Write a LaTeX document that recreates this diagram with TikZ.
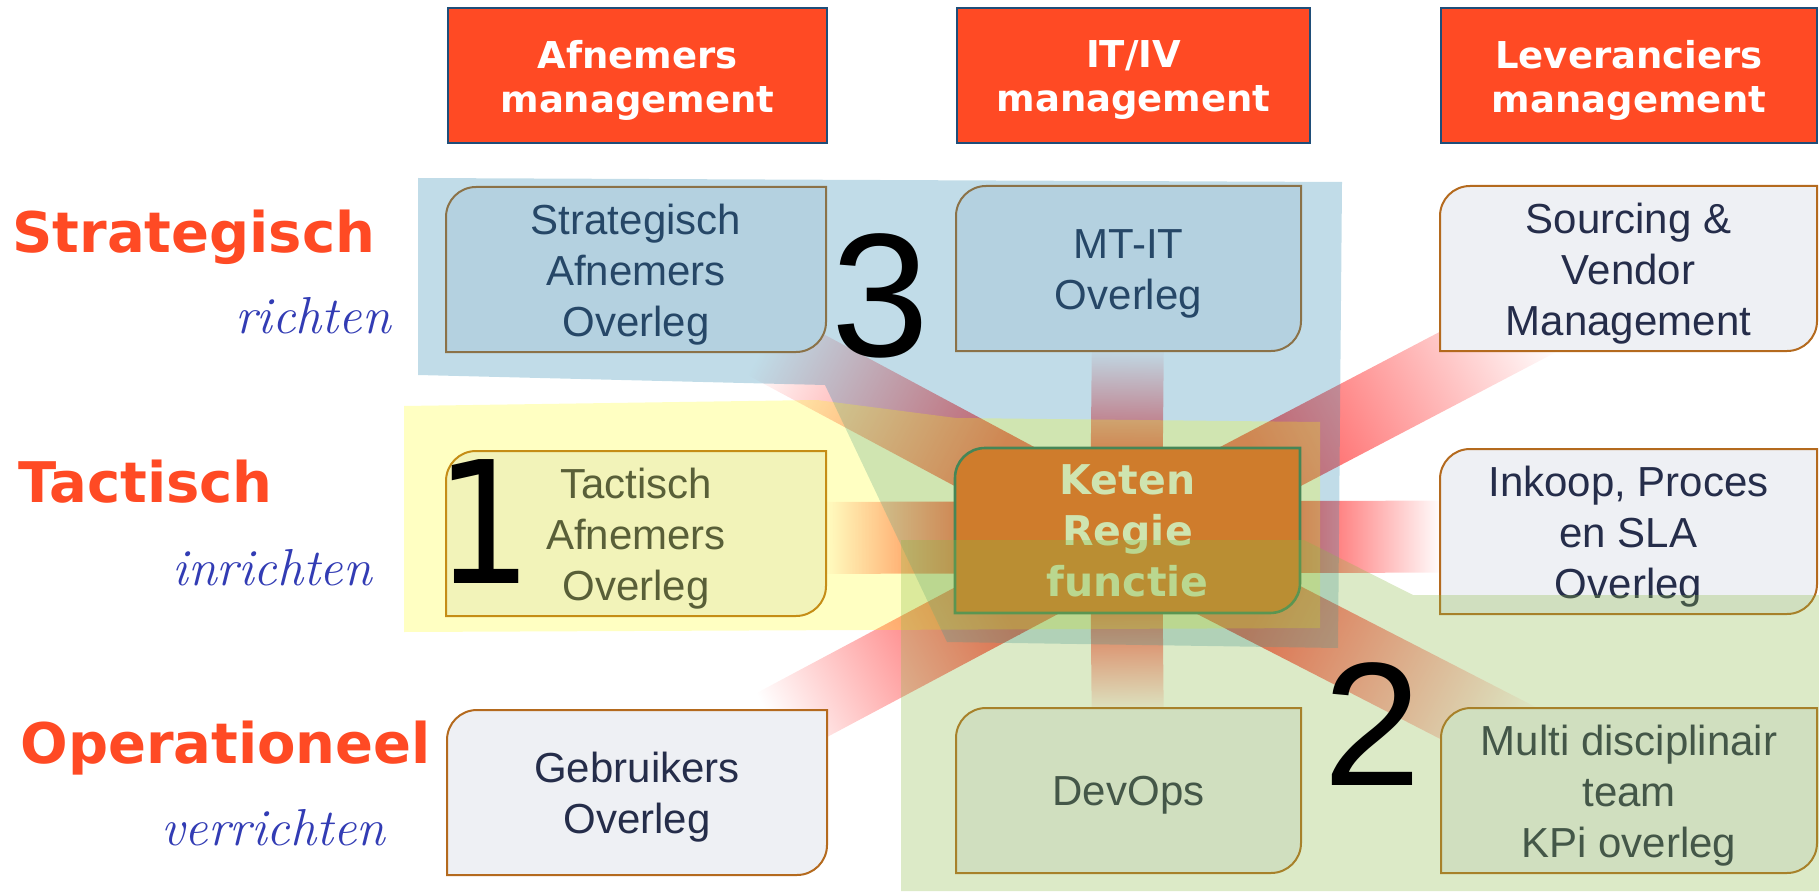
\documentclass[tikz,border=0pt]{standalone}
\usepackage{fontspec}
\usepackage{graphicx}
\usetikzlibrary{calc}
\newfontfamily\djfont{DejaVu Sans}
\newfontfamily\lsfont{Liberation Sans}
\definecolor{hdr}{RGB}{255,74,36}
\definecolor{hdrline}{RGB}{31,78,121}
\definecolor{boxfill}{RGB}{238,240,244}
\definecolor{boxline}{RGB}{180,106,30}
\definecolor{boxtxt}{RGB}{37,45,74}
\definecolor{ketenfill}{RGB}{255,62,10}
\definecolor{ketenline}{RGB}{0,80,90}
\definecolor{scriptblue}{RGB}{50,60,180}
\definecolor{ovblue}{RGB}{41,136,177}
\definecolor{ovyellow}{RGB}{255,255,0}
\definecolor{ovgreen}{RGB}{140,185,70}
\definecolor{beamred}{RGB}{255,80,80}
\pgfdeclarelayer{beams}
\pgfsetlayers{beams,main}
\newcommand\ovbox[8][]{%
  \draw[boxshape,#1] (#3,#6) -- (#3,#4+30) .. controls (#3,#4+13.4) and (#3+13.4,#4) .. (#3+30,#4) -- (#5,#4) -- (#5,#6-30) .. controls (#5,#6-13.4) and (#5-13.4,#6) .. (#5-30,#6) -- cycle;
  \node[boxtext,#7] (#2) at ({(#3+#5)/2},{(#4+#6)/2+5}) {#8};
}
\newcommand\beam[3]{%
  \pgfmathanglebetweenpoints{\pgfpointanchor{hub}{center}}{\pgfpointanchor{#1}{center}}%
  \let\bang\pgfmathresult
  \begin{scope}[transform canvas={shift={(hub)},rotate=\bang}]
    \fill[beamred] (0,-36) rectangle (#2,36);
    \shade[left color=beamred,right color=white] (#2-0.5,-36) rectangle (#3,36);
  \end{scope}
}
\begin{document}
\begin{tikzpicture}[x=0.5pt,y=-0.5pt,
  hdrbox/.style={draw=hdrline,fill=hdr,line width=1pt},
  hdrtext/.style={inner sep=0,align=center,text=white,font={\djfont\bfseries\fontsize{18.5}{22}\selectfont}},
  rowlab/.style={anchor=base west,inner sep=0,text=hdr,font={\djfont\bfseries\fontsize{28}{30}\selectfont}},
  scr/.style={anchor=base west,inner sep=0,text=scriptblue,font={\itshape\fontsize{26}{28}\selectfont}},
  boxshape/.style={draw=boxline,fill=boxfill,line width=1pt},
  boxtext/.style={inner sep=0,align=center,text=boxtxt,font={\lsfont\fontsize{21}{25.5}\selectfont}},
  ketentext/.style={text=white,yshift=2.5pt,font={\djfont\bfseries\fontsize{20.5}{25.5}\selectfont}},
  bignum/.style={anchor=base west,inner sep=0,text=black}]
\useasboundingbox (0,0) rectangle (1819,893);
% column headers
\draw[hdrbox] (448,8) rectangle (827,143);
\node[hdrtext] (hA) at (637.5,80.5) {Afnemers\\management};
\draw[hdrbox] (957,8) rectangle (1310,143);
\node[hdrtext] (hI) at (1133.5,80.5) {IT/IV\\management};
\draw[hdrbox] (1441,8) rectangle (1817,143);
\node[hdrtext] (hL) at (1629,80.5) {Leveranciers\\management};
% row labels
\node[rowlab] (rS) at (12,253) {Strategisch};
\node[rowlab] (rT) at (18,502) {Tactisch};
\node[rowlab] (rO) at (20,763) {Operationeel};
\node[scr] (sR) at (235,333) {richten};
\node[scr] (sI) at (172,585) {inrichten};
\node[scr] (sV) at (161,845) {verrichten};
% boxes
\ovbox{sao}{446}{187}{826}{352}{}{Strategisch\\Afnemers\\Overleg}
\ovbox{mtit}{956}{186}{1301}{351}{}{MT-IT\\Overleg}
\ovbox{svm}{1440}{186}{1817}{351}{}{Sourcing \&\\Vendor\\Management}
\ovbox{tao}{446}{451}{826}{616}{}{Tactisch\\Afnemers\\Overleg}
\ovbox[fill=ketenfill,draw=ketenline,line width=1.3pt]{ket}{955}{448}{1300}{613}{ketentext}{Keten\\Regie\\functie}
\ovbox{ipo}{1440}{449}{1817}{614}{}{Inkoop, Proces\\en SLA\\Overleg}
\ovbox{gbo}{447}{710}{827}{875}{}{Gebruikers\\Overleg}
\ovbox{dev}{956}{708}{1301}{873}{}{DevOps}
\ovbox{mdt}{1441}{708}{1817}{873}{}{Multi disciplinair\\team\\KPi overleg}
\coordinate (hub) at (1126,537);
% beams from the hub to every box
\begin{pgfonlayer}{beams}
\beam{ipo}{170}{316}
\beam{tao}{166}{302}
\beam{mtit}{85}{190}
\beam{dev}{72}{178}
\beam{svm}{150}{470}
\beam{mdt}{150}{450}
\beam{sao}{150}{410}
\beam{gbo}{140}{400}
\end{pgfonlayer}
% translucent zones
\fill[ovblue,fill opacity=0.29] (418,178) -- (1342,182) -- (1338,648) -- (947,642) -- (825,385) -- (418,375) -- cycle;
\fill[ovyellow,fill opacity=0.24] (404,406) -- (817,400) -- (956,418) -- (1320,422) -- (1320,628) -- (404,632) -- cycle;
\fill[ovgreen,fill opacity=0.3] (901,540) -- (1304,540) -- (1413,595) -- (1819,595) -- (1819,891) -- (901,891) -- cycle;
% numbers
\node[bignum,font={\lsfont\fontsize{88}{88}\selectfont}] (n3) at (831,356) {3};
\node[bignum,font={\lsfont\fontsize{88}{88}\selectfont}] (n2) at (1323,785) {2};
\node[bignum,font={\djfont\fontsize{85}{85}\selectfont}] (n1) at (435,583) {\scalebox{0.9}[1]{1}};
\end{tikzpicture}
\end{document}
